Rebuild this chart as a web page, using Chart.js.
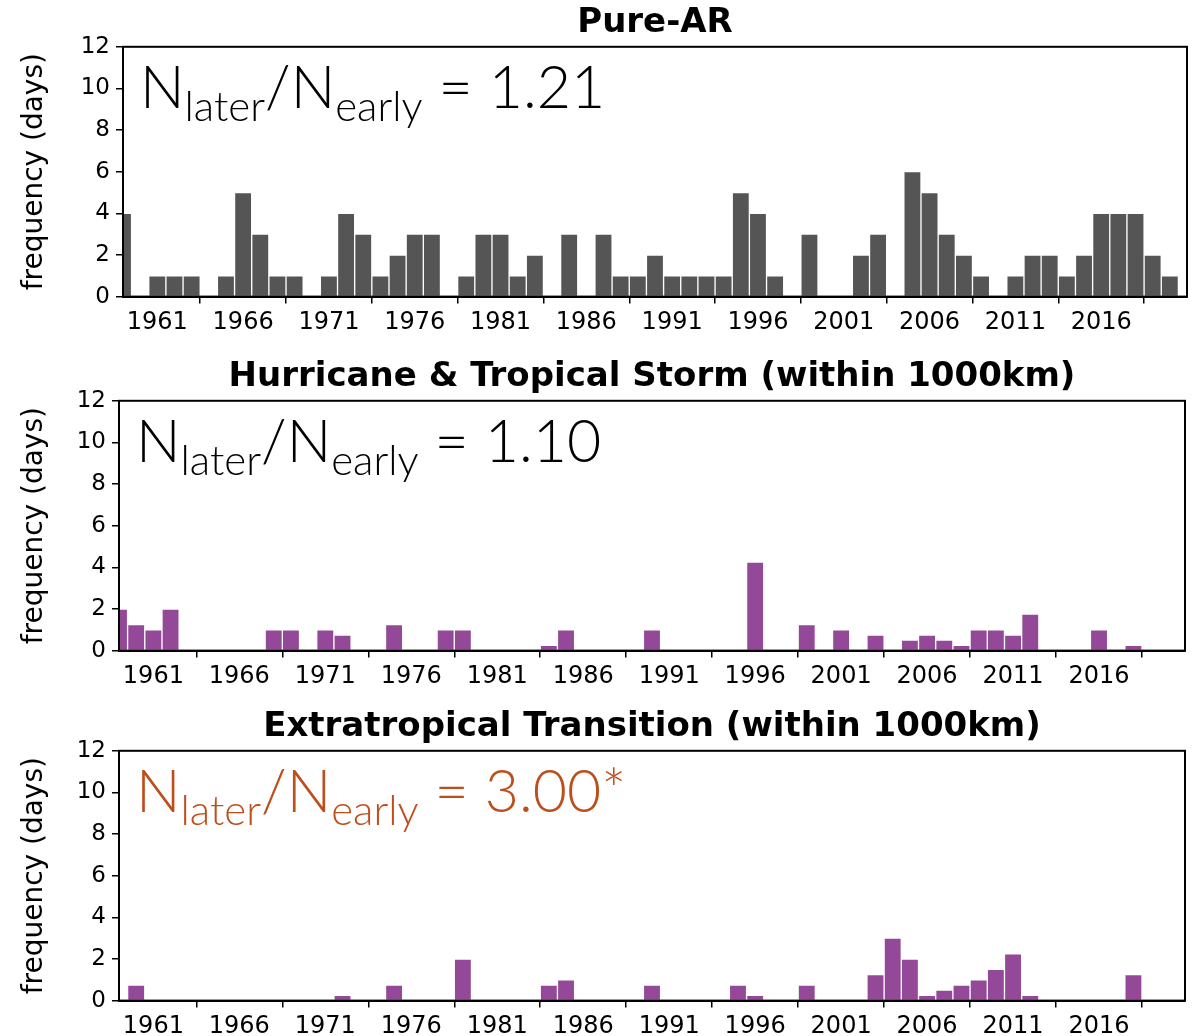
<!DOCTYPE html>
<html>
<head>
<meta charset="utf-8">
<script src="https://cdn.jsdelivr.net/npm/chart.js@4.4.1/dist/chart.umd.min.js"></script>
<style>
  html, body { margin: 0; padding: 0; background: #fff; overflow: hidden; }
  .panel { position: absolute; left: 0; width: 1199px; height: 332px; }
</style>
</head>
<body>
<div class="panel" style="top:0px"><canvas id="pureChart"></canvas></div>
<div class="panel" style="top:354px"><canvas id="hurrChart"></canvas></div>
<div class="panel" style="top:704px"><canvas id="etChart"></canvas></div>
<script>
Chart.defaults.font.family = "'DejaVu Sans', sans-serif";
Chart.defaults.color = '#000';

const firstYear = 1959;
const years = Array.from({length: 62}, (_, i) => firstYear + i);
const tickYears = [1961, 1966, 1971, 1976, 1981, 1986, 1991, 1996, 2001, 2006, 2011, 2016];

// frequency (days) per year, 1959..2020
const pureAR = [4, 0, 1, 1, 1, 0, 1, 5, 3, 1,
                1, 0, 1, 4, 3, 1, 2, 3, 3, 0,
                1, 3, 3, 1, 2, 0, 3, 0, 3, 1,
                1, 2, 1, 1, 1, 1, 5, 4, 1, 0,
                3, 0, 0, 2, 3, 0, 6, 5, 3, 2,
                1, 0, 1, 2, 2, 1, 2, 4, 4, 4,
                2, 1];
const hurricaneTS = [2, 1.25, 1, 2, 0, 0, 0, 0, 0, 1,
                     1, 0, 1, 0.75, 0, 0, 1.25, 0, 0, 1,
                     1, 0, 0, 0, 0, 0.25, 1, 0, 0, 0,
                     0, 1, 0, 0, 0, 0, 0, 4.25, 0, 0,
                     1.25, 0, 1, 0, 0.75, 0, 0.5, 0.75, 0.5, 0.25,
                     1, 1, 0.75, 1.75, 0, 0, 0, 1, 0, 0.25,
                     0, 0];
const extratropical = [0, 0.75, 0, 0, 0, 0, 0, 0, 0, 0,
                       0, 0, 0, 0.25, 0, 0, 0.75, 0, 0, 0,
                       2, 0, 0, 0, 0, 0.75, 1, 0, 0, 0,
                       0, 0.75, 0, 0, 0, 0, 0.75, 0.25, 0, 0,
                       0.75, 0, 0, 0, 1.25, 3, 2, 0.25, 0.5, 0.75,
                       1, 1.5, 2.25, 0.25, 0, 0, 0, 0, 0, 1.25,
                       0, 0];

const panelTitles = ['Pure-AR', 'Hurricane & Tropical Storm (within 1000km)', 'Extratropical Transition (within 1000km)'];
const ratioValues = ['1.21', '1.10', '3.00*'];

// box around the plot area
const frame = {
  id: 'frame',
  afterDatasetsDraw(chart) {
    const a = chart.chartArea;
    const ctx = chart.ctx;
    ctx.save();
    ctx.strokeStyle = '#000';
    ctx.lineWidth = 2;
    ctx.strokeRect(a.left, a.top, a.right - a.left, a.bottom - a.top);
    ctx.restore();
  }
};

// N_later / N_early = x text with subscripts
const ratioText = {
  id: 'ratioText',
  afterDraw(chart, args, opts) {
    const ctx = chart.ctx;
    const a = chart.chartArea;
    let x = a.left + 17;
    const y = a.top + 61;
    const big = '300 59px Lato', small = '300 42px Lato';
    const parts = [['N', big, 0], ['later', small, 13], ['/N', big, 0], ['early', small, 13], [' = ' + opts.value, big, 0]];
    ctx.save();
    ctx.fillStyle = opts.color;
    ctx.textBaseline = 'alphabetic';
    ctx.textAlign = 'left';
    parts.forEach(p => {
      ctx.font = p[1];
      ctx.fillText(p[0], x, y + p[2]);
      x += ctx.measureText(p[0]).width;
    });
    ctx.restore();
  }
};

function makePanel(id, title, values, fill, ratio, ratioColor, axisW, padRight) {
  const ctx = document.getElementById(id).getContext('2d');
  return new Chart(ctx, {
    type: 'bar',
    data: {
      datasets: [{
        data: years.map((yr, i) => ({x: yr, y: values[i]})),
        backgroundColor: fill,
        borderColor: 'rgba(255,255,255,0.6)',
        borderWidth: 1,
        barPercentage: 1,
        categoryPercentage: 1
      }]
    },
    options: {
      responsive: true,
      maintainAspectRatio: false,
      animation: false,
      layout: { padding: { left: 0, right: padRight, top: 0, bottom: 0 } },
      plugins: {
        legend: { display: false },
        tooltip: { enabled: false },
        title: {
          display: true,
          text: title,
          fullSize: false,
          color: '#000',
          font: { size: 34, weight: 'bold' },
          padding: { top: 3, bottom: 3 }
        },
        ratioText: { value: ratio, color: ratioColor }
      },
      scales: {
        x: {
          type: 'linear',
          offset: false,
          min: 1959,
          max: 2021,
          afterBuildTicks: s => { s.ticks = tickYears.map(v => ({value: v})); },
          afterFit: s => { s.height = 35.4; },
          ticks: {
            callback: v => String(v),
            font: { size: 24 },
            padding: 5,
            maxRotation: 0,
            autoSkip: false
          },
          grid: { display: true, drawOnChartArea: false, drawTicks: true, tickLength: 7, color: '#000', lineWidth: 1.5 },
          border: { display: true, color: '#000', width: 2 }
        },
        y: {
          min: 0,
          max: 12,
          afterFit: s => { s.width = axisW; },
          ticks: { stepSize: 2, font: { size: 23 }, padding: 6 },
          grid: { display: true, drawOnChartArea: false, drawTicks: true, tickLength: 7, color: '#000', lineWidth: 1.5 },
          border: { display: true, color: '#000', width: 2 },
          title: {
            display: true,
            text: 'frequency (days)',
            font: { size: 28 },
            padding: { top: 18, bottom: 0 }
          }
        }
      }
    },
    plugins: [frame, ratioText]
  });
}

makePanel('pureChart', panelTitles[0], pureAR, '#555555', ratioValues[0], '#000', 123, 12);
makePanel('hurrChart', panelTitles[1], hurricaneTS, '#944898', ratioValues[1], '#000', 119, 14);
makePanel('etChart', panelTitles[2], extratropical, '#944898', ratioValues[2], '#bd4f1c', 119, 14);
</script>
</body>
</html>
